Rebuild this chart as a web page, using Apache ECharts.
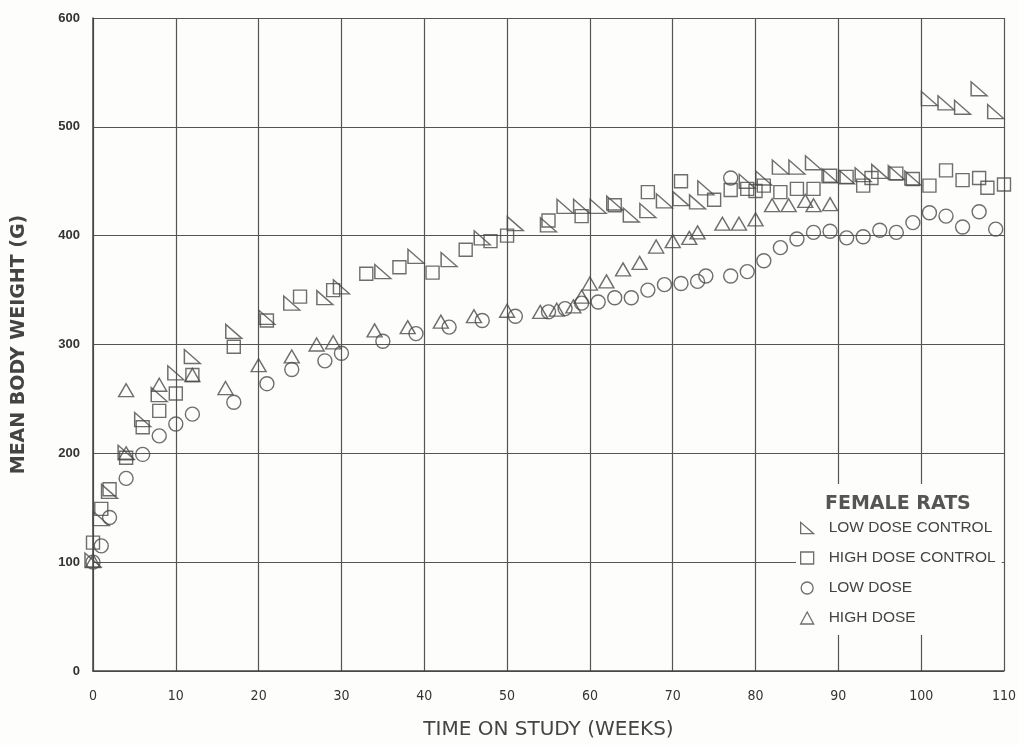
<!DOCTYPE html>
<html>
<head>
<meta charset="utf-8">
<title>Female rats - mean body weight</title>
<script src="https://cdn.jsdelivr.net/npm/echarts@6/dist/echarts.min.js"></script>
<style>
  html, body { margin: 0; padding: 0; background: #fdfdfb; }
  #chart { width: 1019px; height: 745px; }
</style>
</head>
<body>
<div id="chart"></div>
<script>
"use strict";

// [week, mean body weight (g)]
var lowDoseControl = [
    [0, 102], [1, 140], [2, 165], [4, 201], [6, 231], [8, 254], [10, 274], [12, 289],
    [17, 312], [21, 325], [24, 338], [28, 343], [30, 353], [35, 367], [39, 381], [43, 378],
    [47, 398], [51, 411], [55, 410], [57, 427], [59, 427], [61, 427], [63, 430], [65, 419],
    [67, 423], [69, 432], [71, 434], [73, 431], [74, 444], [79, 450], [81, 453], [83, 463],
    [85, 463], [87, 467], [89, 455], [91, 454], [93, 456], [95, 459], [97, 458], [99, 453],
    [101, 526], [103, 522], [105, 518], [107, 535], [109, 514]
];
var highDoseControl = [
    [0, 118], [1, 149], [2, 167], [4, 196], [6, 224], [8, 239], [10, 255], [12, 272],
    [17, 298], [21, 322], [25, 344], [29, 350], [33, 365], [37, 371], [41, 366], [45, 387],
    [48, 395], [50, 400], [55, 414], [59, 418], [63, 428], [67, 440], [71, 450], [75, 433],
    [77, 442], [79, 443], [80, 441], [81, 446], [83, 440], [85, 443], [87, 443], [89, 455],
    [91, 454], [93, 446], [94, 453], [97, 457], [99, 452], [101, 446], [103, 460], [105, 451],
    [107, 453], [108, 444], [110, 447]
];
var lowDose = [
    [0, 100], [1, 115], [2, 141], [4, 177], [6, 199], [8, 216], [10, 227], [12, 236],
    [17, 247], [21, 264], [24, 277], [28, 285], [30, 292], [35, 303], [39, 310], [43, 316],
    [47, 322], [51, 326], [55, 330], [57, 333], [59, 338], [61, 339], [63, 343], [65, 343],
    [67, 350], [69, 355], [71, 356], [73, 358], [74, 363], [77, 363], [77, 453], [79, 367],
    [81, 377], [83, 389], [85, 397], [87, 403], [89, 404], [91, 398], [93, 399], [95, 405],
    [97, 403], [99, 412], [101, 421], [103, 418], [105, 408], [107, 422], [109, 406]
];
var highDose = [
    [0, 101], [4, 200], [4, 258], [8, 263], [12, 272], [16, 260], [20, 281], [24, 289],
    [27, 300], [29, 302], [34, 313], [38, 316], [42, 321], [46, 326], [50, 331], [54, 330],
    [56, 332], [58, 335], [59, 344], [60, 356], [62, 358], [64, 369], [66, 375], [68, 390],
    [70, 395], [72, 398], [73, 403], [76, 411], [78, 411], [80, 415], [82, 428], [84, 428],
    [86, 432], [87, 428], [89, 429]
];

var seriesNames = ['LOW DOSE CONTROL', 'HIGH DOSE CONTROL', 'LOW DOSE', 'HIGH DOSE'];
var xTicks = { min: 0, max: 110, step: 10 };
var yTicks = { min: 0, max: 600, step: 100 };

var ink = '#4a4a4a';
var paper = '#fdfdfb';
var rightTri = 'path://M0,0 L0,14 L16,14 Z';

function pointSeries(name, data, symbol, size) {
    return {
        name: name,
        type: 'scatter',
        data: data,
        symbol: symbol,
        symbolSize: size,
        itemStyle: { color: 'rgba(0,0,0,0)', borderColor: ink, borderWidth: 1.4 },
        emphasis: { disabled: true }
    };
}

var myChart = echarts.init(document.getElementById('chart'), null, { renderer: 'canvas' });

var option = {
    backgroundColor: paper,
    animation: false,
    title: {
        text: 'FEMALE RATS',
        left: 820,
        top: 490,
        z: 10,
        textStyle: {
            fontFamily: 'DejaVu Sans, sans-serif',
            fontSize: 19,
            fontWeight: 'bold',
            color: '#555'
        }
    },
    legend: {
        orient: 'vertical',
        left: 796,
        top: 484,
        padding: [35, 6, 8, 4],
        backgroundColor: paper,
        itemGap: 12,
        itemWidth: 13,
        itemHeight: 12,
        data: seriesNames,
        itemStyle: { color: paper, borderColor: ink, borderWidth: 1.3 },
        textStyle: {
            fontFamily: 'Liberation Sans, Arial, sans-serif',
            fontSize: 15.5,
            color: '#444',
            padding: [0, 0, 0, 10],
            lineHeight: 18
        }
    },
    grid: { left: 93, right: 15, top: 18, bottom: 70 },
    xAxis: {
        type: 'value',
        min: xTicks.min,
        max: xTicks.max,
        interval: xTicks.step,
        name: 'TIME ON STUDY (WEEKS)',
        nameLocation: 'middle',
        nameGap: 49,
        nameTextStyle: {
            fontFamily: 'DejaVu Sans, sans-serif',
            fontSize: 20,
            color: '#444'
        },
        axisLine: { lineStyle: { color: '#444', width: 1.5 } },
        axisTick: { show: false },
        axisLabel: {
            margin: 18,
            fontFamily: 'Liberation Sans Narrow, DejaVu Sans Condensed, sans-serif',
            fontSize: 14,
            color: '#333'
        },
        splitLine: { show: true, lineStyle: { color: '#555', width: 1.2 } }
    },
    yAxis: {
        type: 'value',
        min: yTicks.min,
        max: yTicks.max,
        interval: yTicks.step,
        name: 'MEAN BODY WEIGHT (G)',
        nameLocation: 'middle',
        nameGap: 64,
        nameTextStyle: {
            fontFamily: 'DejaVu Sans, sans-serif',
            fontSize: 19,
            fontWeight: 'bold',
            color: '#444'
        },
        axisLine: { show: true, lineStyle: { color: '#444', width: 1.5 } },
        axisTick: { show: false },
        axisLabel: {
            margin: 13,
            fontFamily: 'Liberation Sans, Arial, sans-serif',
            fontSize: 13,
            fontWeight: 'bold',
            color: '#333'
        },
        splitLine: { show: true, lineStyle: { color: '#555', width: 1.2 } }
    },
    series: [
        pointSeries(seriesNames[0], lowDoseControl, rightTri, [16, 14]),
        pointSeries(seriesNames[1], highDoseControl, 'rect', 13),
        pointSeries(seriesNames[2], lowDose, 'circle', 14),
        pointSeries(seriesNames[3], highDose, 'triangle', [15, 13])
    ]
};

myChart.setOption(option);
</script>
</body>
</html>
